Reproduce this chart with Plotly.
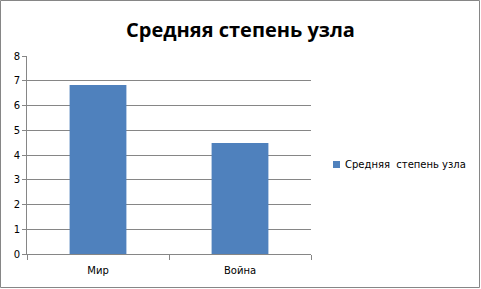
import plotly.graph_objects as go

categories = ["Мир", "Война"]
values = [6.83, 4.48]
series_name = "Средняя  степень узла"
title_text = "Средняя степень узла"
y_ticks = [0, 1, 2, 3, 4, 5, 6, 7, 8]

W, H = 481, 289
L, R, T, B = 27, 170, 56, 35
pw, ph = W - L - R, H - T - B


def px(x):
    return (x - L) / pw


def py(y):
    return (H - B - y) / ph


fig = go.Figure()
fig.add_trace(go.Bar(x=categories, y=values, name=series_name,
                     marker=dict(color="#4F81BD", line=dict(width=0)),
                     width=0.4, showlegend=False))

fig.update_layout(
    width=W, height=H,
    margin=dict(l=L, r=R, t=T, b=B, pad=0, autoexpand=False),
    paper_bgcolor="white", plot_bgcolor="white",
    font=dict(family="DejaVu Sans", size=10, color="#000000"),
    title=dict(text="<b>" + title_text + "</b>", x=0.5, xanchor="center",
               y=1 - 30 / H, yanchor="middle",
               font=dict(family="Open Sans", size=20, color="#000000")),
    showlegend=False,
    bargap=0.6,
)
fig.update_yaxes(range=[0, 8], tickvals=y_ticks, showgrid=True, gridcolor="#868686", gridwidth=1,
                 showline=True, linecolor="#868686", linewidth=1, ticks="outside", ticklen=4,
                 tickcolor="#868686", zeroline=False, fixedrange=True,
                 tickfont=dict(family="DejaVu Sans", size=10), automargin=False)
fig.update_xaxes(showgrid=False, showline=True, linecolor="#868686", linewidth=1,
                 ticks="outside", ticklen=5, tickcolor="#868686", tickson="boundaries",
                 fixedrange=True, ticklabelstandoff=7,
                 tickfont=dict(family="DejaVu Sans", size=10), automargin=False)

# legend (manual, to match the compact swatch spacing)
fig.add_shape(type="rect", xref="paper", yref="paper",
              x0=px(333), x1=px(340), y0=py(168), y1=py(161),
              line=dict(width=0), fillcolor="#4F81BD")
fig.add_annotation(xref="paper", yref="paper", x=px(343), y=py(164.5),
                   xanchor="left", yanchor="middle", showarrow=False,
                   text=series_name.replace("  ", "&nbsp; "),
                   font=dict(family="DejaVu Sans", size=10, color="#000000"))

# outer chart border
fig.add_shape(type="rect", xref="paper", yref="paper",
              x0=px(0.5), x1=px(W - 1.5), y0=py(H - 1.5), y1=py(0.5),
              line=dict(color="#868686", width=1), fillcolor="rgba(0,0,0,0)", layer="below")

fig.write_html("out.html")
